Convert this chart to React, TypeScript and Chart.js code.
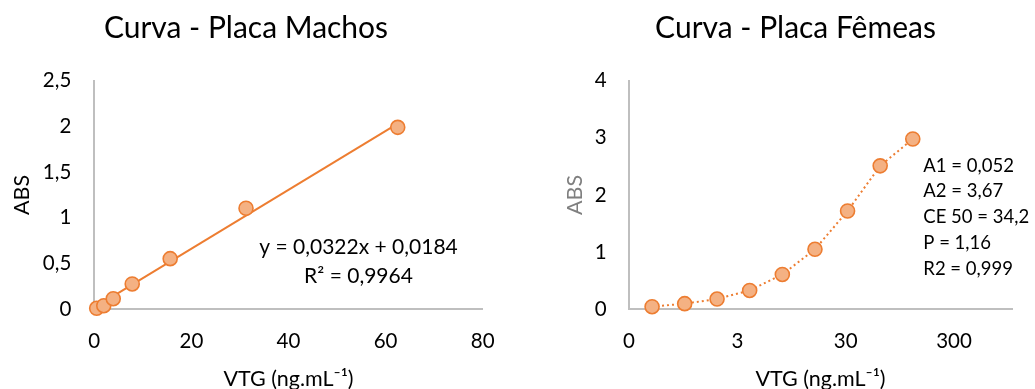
import React, { useEffect, useRef } from "react";
import { Chart, registerables } from "chart.js";

Chart.register(...registerables);

// ---------- data ----------
const machosX = [0.49, 1.95, 3.9, 7.81, 15.63, 31.25, 62.5];
const machosY = [0.011, 0.039, 0.116, 0.277, 0.554, 1.105, 1.99];
const machosSlope = 0.0322;
const machosIntercept = 0.0184;
const machosEquation = ["y = 0,0322x + 0,0184", "R² = 0,9964"];
const machosXTicks = [0, 20, 40, 60, 80];
const machosXTickLabels = ["0", "20", "40", "60", "80"];
const machosYTicks = [0, 0.5, 1, 1.5, 2, 2.5];
const machosYTickLabels = ["0", "0,5", "1", "1,5", "2", "2,5"];

const femeasX = [0.49, 0.98, 1.95, 3.9, 7.81, 15.63, 31.25, 62.5, 125];
const femeasY = [0.045, 0.099, 0.18, 0.33, 0.61, 1.05, 1.72, 2.51, 2.98];
const femeasParams = ["A1 = 0,052", "A2 = 3,67", "CE 50 = 34,2", "P = 1,16", "R2 = 0,999"];
const femeasXTicks = [0.3, 3, 30, 300];
const femeasXTickLabels = ["0", "3", "30", "300"];
const femeasYTicks = [0, 1, 2, 3, 4];
const femeasYTickLabels = ["0", "1", "2", "3", "4"];

const titleMachos = "Curva - Placa Machos";
const titleFemeas = "Curva - Placa Fêmeas";
const xTitle = "VTG (ng.mL⁻¹)";
const yTitle = "ABS";

// ---------- styles ----------
const FONT = "Lato, 'Open Sans', sans-serif";
const ORANGE = "#ED7D31";
const ORANGE_LIGHT = "#F4B183";
const AXIS = "#BFBFBF";
const H = 389;
const TICK_SIZE = 20.5;
const AXIS_TITLE_SIZE = 21.5;

type TextSpec = {
  title: string;
  titleX: number;
  titleBaseline: number;
  lines: string[];
  linesSize: number;
  linesX: number;
  lineBaselines: number[];
  align: CanvasTextAlign;
};

function textPlugin(spec: TextSpec) {
  return {
    id: "customText",
    afterDraw(chart: any) {
      const ctx = chart.ctx as CanvasRenderingContext2D;
      ctx.save();
      ctx.fillStyle = "#000";
      ctx.textBaseline = "alphabetic";
      ctx.textAlign = "center";
      ctx.font = `30px ${FONT}`;
      ctx.fillText(spec.title, spec.titleX, spec.titleBaseline);
      ctx.font = `${spec.linesSize}px ${FONT}`;
      ctx.textAlign = spec.align;
      spec.lines.forEach((l, i) => ctx.fillText(l, spec.linesX, spec.lineBaselines[i]));
      ctx.restore();
    },
  };
}

function fixedTicks(values: number[]) {
  return (scale: any) => {
    scale.ticks = values.map((v) => ({ value: v }));
  };
}

function makeScales(opts: {
  xType: "linear" | "logarithmic";
  xMin: number;
  xMax: number;
  xTicks: number[];
  xLabels: string[];
  yMax: number;
  yTicks: number[];
  yLabels: string[];
  yWidth: number;
  xHeight: number;
  yTickPad: number;
  yTitleColor: string;
  yTitlePad: number;
}) {
  return {
    x: {
      type: opts.xType,
      min: opts.xMin,
      max: opts.xMax,
      afterBuildTicks: fixedTicks(opts.xTicks),
      afterFit: (s: any) => {
        s.height = opts.xHeight;
      },
      grid: { display: false, drawTicks: false },
      border: { display: true, color: AXIS, width: 2 },
      ticks: {
        autoSkip: false,
        maxRotation: 0,
        padding: 20,
        color: "#000",
        font: { family: FONT, size: TICK_SIZE, lineHeight: 1.2 },
        callback: (_v: any, i: number) => opts.xLabels[i],
      },
      title: {
        display: true,
        text: xTitle,
        color: "#000",
        font: { family: FONT, size: AXIS_TITLE_SIZE, lineHeight: 0.9 },
        padding: { top: 0, bottom: 0 },
      },
    },
    y: {
      type: "linear" as const,
      min: 0,
      max: opts.yMax,
      afterBuildTicks: fixedTicks(opts.yTicks),
      afterFit: (s: any) => {
        s.width = opts.yWidth;
      },
      grid: { display: false, drawTicks: false },
      border: { display: true, color: AXIS, width: 2 },
      ticks: {
        autoSkip: false,
        padding: opts.yTickPad,
        color: "#000",
        font: { family: FONT, size: TICK_SIZE },
        callback: (_v: any, i: number) => opts.yLabels[i],
      },
      title: {
        display: true,
        text: yTitle,
        color: opts.yTitleColor,
        font: { family: FONT, size: AXIS_TITLE_SIZE, lineHeight: 1.2 },
        padding: { top: opts.yTitlePad, bottom: 0 },
      },
    },
  };
}

const pointStyle = {
  pointRadius: 7,
  pointHoverRadius: 7,
  pointBackgroundColor: ORANGE_LIGHT,
  pointBorderColor: ORANGE,
  pointBorderWidth: 1.6,
};

function ChartCanvas({ left, width, build }: { left: number; width: number; build: (c: HTMLCanvasElement) => Chart }) {
  const ref = useRef<HTMLCanvasElement | null>(null);
  useEffect(() => {
    if (!ref.current) return;
    const chart = build(ref.current);
    return () => chart.destroy();
  }, []);
  return (
    <div style={{ position: "absolute", left, top: 0, width, height: H }}>
      <canvas ref={ref} width={width} height={H} style={{ width, height: H, display: "block" }} />
    </div>
  );
}

function buildMachos(canvas: HTMLCanvasElement) {
  const first = machosX[0];
  const last = machosX[machosX.length - 1];
  const trend = [
    { x: first, y: machosSlope * first + machosIntercept },
    { x: last, y: machosSlope * last + machosIntercept },
  ];
  return new Chart(canvas, {
    type: "scatter",
    data: {
      datasets: [
        {
          type: "line",
          data: trend,
          borderColor: ORANGE,
          borderWidth: 2,
          pointRadius: 0,
          fill: false,
          clip: false,
          order: 2,
        } as any,
        {
          type: "scatter",
          data: machosX.map((x, i) => ({ x, y: machosY[i] })),
          ...pointStyle,
          clip: false,
          order: 1,
        } as any,
      ],
    },
    options: {
      responsive: false,
      animation: false,
      events: [],
      layout: { padding: { top: 80.7, right: 34.3, bottom: 0, left: 0 } },
      plugins: { legend: { display: false }, tooltip: { enabled: false }, title: { display: false } },
      scales: makeScales({
        xType: "linear",
        xMin: 0,
        xMax: 80,
        xTicks: machosXTicks,
        xLabels: machosXTickLabels,
        yMax: 2.5,
        yTicks: machosYTicks,
        yLabels: machosYTickLabels,
        yWidth: 94.3,
        xHeight: H - 309.3,
        yTickPad: 23,
        yTitleColor: "#000",
        yTitlePad: 9.4,
      }) as any,
    },
    plugins: [
      textPlugin({
        title: titleMachos,
        titleX: 246,
        titleBaseline: 38,
        lines: machosEquation,
        linesSize: 21,
        linesX: 358.5,
        lineBaselines: [254, 283],
        align: "center",
      }),
    ],
  });
}

function buildFemeas(canvas: HTMLCanvasElement) {
  const L = 517;
  return new Chart(canvas, {
    type: "line",
    data: {
      datasets: [
        {
          data: femeasX.map((x, i) => ({ x, y: femeasY[i] })),
          borderColor: ORANGE,
          borderWidth: 2,
          borderDash: [2, 3],
          tension: 0,
          fill: false,
          clip: false,
          ...pointStyle,
        } as any,
      ],
    },
    options: {
      responsive: false,
      animation: false,
      events: [],
      layout: { padding: { top: 80.7, right: 23, bottom: 0, left: 0 } },
      plugins: { legend: { display: false }, tooltip: { enabled: false }, title: { display: false } },
      scales: makeScales({
        xType: "logarithmic",
        xMin: 0.3,
        xMax: 1030,
        xTicks: femeasXTicks,
        xLabels: femeasXTickLabels,
        yMax: 4,
        yTicks: femeasYTicks,
        yLabels: femeasYTickLabels,
        yWidth: 629 - L,
        xHeight: H - 309.3,
        yTickPad: 22.3,
        yTitleColor: "#7F7F7F",
        yTitlePad: 44.9,
      }) as any,
    },
    plugins: [
      textPlugin({
        title: titleFemeas,
        titleX: 795.5 - L,
        titleBaseline: 38,
        lines: femeasParams,
        linesSize: 18.5,
        linesX: 923.3 - L,
        lineBaselines: [171.7, 197.3, 223.3, 249, 274.7],
        align: "left",
      }),
    ],
  });
}

export default function App() {
  return (
    <div style={{ position: "absolute", left: 0, top: 0, width: 1035, height: H, background: "#fff", overflow: "hidden" }}>
      <ChartCanvas left={0} width={517} build={buildMachos} />
      <ChartCanvas left={517} width={518} build={buildFemeas} />
    </div>
  );
}
